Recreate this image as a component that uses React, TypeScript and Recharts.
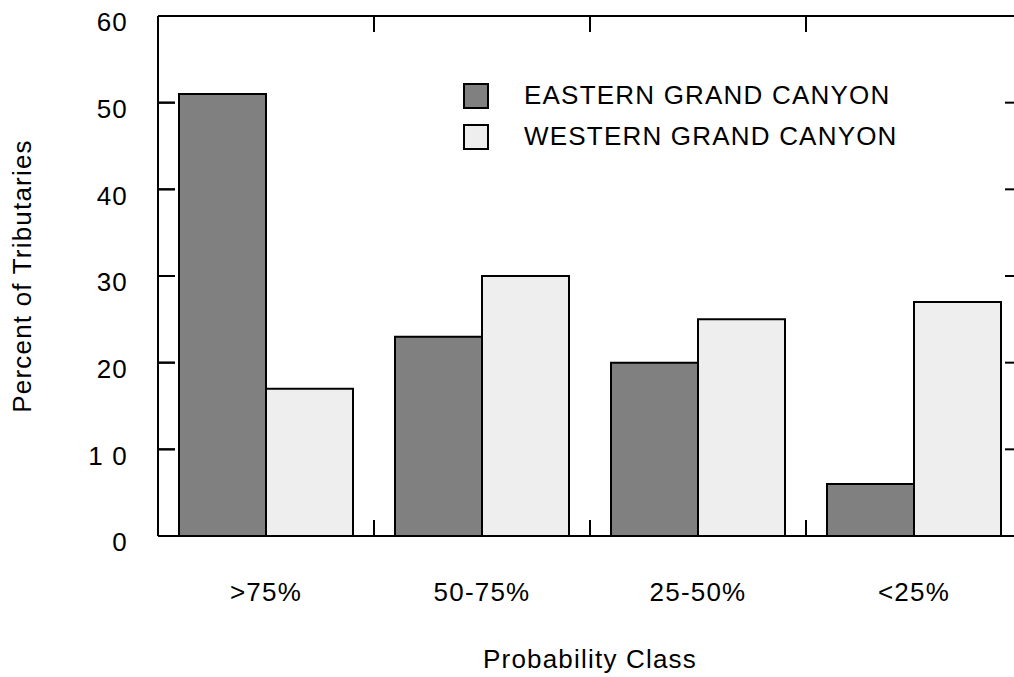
import { BarChart, Bar, XAxis, YAxis, Legend, ReferenceLine } from "recharts";

// probability classes along the x axis
const CLASSES = [">75%", "50-75%", "25-50%", "<25%"];
// percent of tributaries per class
const EASTERN = [51, 23, 20, 6];
const WESTERN = [17, 30, 25, 27];
const Y_TICKS = [0, 10, 20, 30, 40, 50, 60];

const SERIES = [
  { key: "eastern", name: "EASTERN GRAND CANYON", fill: "#808080" },
  { key: "western", name: "WESTERN GRAND CANYON", fill: "#eeeeee" },
];

const data = CLASSES.map((cls, i) => ({
  cls,
  eastern: EASTERN[i],
  western: WESTERN[i],
}));

const FONT = "'Liberation Sans', Arial, Helvetica, sans-serif";
const textStyle = { fontSize: 26, letterSpacing: 1.2, fill: "#000", fontFamily: FONT };
const line = { stroke: "#000", strokeWidth: 2 };
const TICK_LEN = 16;

// small inward mark on the boundary between two classes
function BoundaryTick(props: any) {
  const { y, payload, index, dir } = props;
  if (index >= CLASSES.length - 1) return <g />;
  const bx = Number(payload.coordinate) + Number(payload.offset || 0);
  const by = Number(y);
  return (
    <line
      x1={bx}
      x2={bx}
      y1={by}
      y2={by + dir * TICK_LEN}
      stroke="#000"
      strokeWidth={2}
    />
  );
}

// inward y tick marks on both frame edges, drawn from a reference line's ends
function EdgeTicks(props: any) {
  const a = Number(props.x1);
  const b = Number(props.x2);
  const lx = Math.min(a, b);
  const rx = Math.max(a, b);
  const y = Number(props.y1);
  return (
    <g>
      <line x1={lx} x2={lx + 17} y1={y} y2={y} stroke="#000" strokeWidth={2} />
      <line x1={rx - 17} x2={rx} y1={y} y2={y} stroke="#000" strokeWidth={2} />
    </g>
  );
}

function LegendBox() {
  return (
    <div style={{ fontFamily: FONT, fontSize: 26, letterSpacing: 1.2, color: "#000" }}>
      {SERIES.map((s) => (
        <div
          key={s.key}
          style={{ display: "flex", alignItems: "center", height: 41 }}
        >
          <span
            style={{
              display: "inline-block",
              width: 22,
              height: 22,
              background: s.fill,
              border: "2px solid #000",
              marginRight: 35,
            }}
          />
          <span>{s.name}</span>
        </div>
      ))}
    </div>
  );
}

export default function App() {
  return (
    <div
      style={{
        position: "absolute",
        left: 0,
        top: 0,
        width: 1014,
        height: 677,
        overflow: "hidden",
        background: "#fff",
        fontFamily: FONT,
      }}
    >
      <BarChart
        width={1030}
        height={677}
        data={data}
        margin={{ top: 15, right: 8, left: 0, bottom: 0 }}
        barCategoryGap={21}
        barGap={0}
      >
        <XAxis
          xAxisId="bot"
          dataKey="cls"
          orientation="bottom"
          height={1}
          axisLine={line}
          tickLine={false}
          tickSize={0}
          tickMargin={0}
          tick={(p: any) => <BoundaryTick {...p} dir={-1} />}
        />
        <XAxis
          xAxisId="cat"
          dataKey="cls"
          height={140}
          axisLine={false}
          tickLine={false}
          tickSize={0}
          tickMargin={46}
          tick={textStyle}
          label={{
            value: "Probability  Class",
            position: "insideBottom",
            offset: 9,
            style: textStyle,
          }}
        />
        <XAxis
          xAxisId="top"
          dataKey="cls"
          orientation="top"
          height={1}
          axisLine={line}
          tickLine={false}
          tickSize={0}
          tickMargin={0}
          tick={(p: any) => <BoundaryTick {...p} dir={1} />}
        />
        <YAxis
          yAxisId="left"
          domain={[0, 60]}
          ticks={Y_TICKS}
          width={158}
          axisLine={line}
          tickLine={false}
          tickSize={0}
          tickMargin={30}
          tick={{ ...textStyle, dy: 6 }}
          tickFormatter={(v) => (v === 10 ? "1 0" : String(v))}
          label={{
            value: "Percent of Tributaries",
            angle: -90,
            position: "insideLeft",
            offset: 22,
            style: { ...textStyle, textAnchor: "middle" },
          }}
        />
        <YAxis
          yAxisId="right"
          domain={[0, 60]}
          orientation="right"
          mirror
          axisLine={line}
          tick={false}
          tickLine={false}
        />
        <Legend
          layout="vertical"
          align="center"
          verticalAlign="middle"
          wrapperStyle={{ left: 463, top: 75, width: 500 }}
          content={() => <LegendBox />}
        />
        {SERIES.map((s) => (
          <Bar
            key={s.key}
            xAxisId="cat"
            yAxisId="left"
            dataKey={s.key}
            name={s.name}
            fill={s.fill}
            stroke="#000"
            strokeWidth={2}
            isAnimationActive={false}
          />
        ))}
        {Y_TICKS.map((v) => (
          <ReferenceLine
            key={v}
            y={v}
            xAxisId="cat"
            yAxisId="left"
            ifOverflow="visible"
            shape={(p: any) => <EdgeTicks {...p} />}
          />
        ))}
        {Y_TICKS.map((v) => (
          <ReferenceLine
            key={`l${v}`}
            xAxisId="cat"
            yAxisId="left"
            position="start"
            ifOverflow="visible"
            segment={[
              { x: CLASSES[0], y: v },
              { x: CLASSES[0], y: v },
            ]}
            shape={(p: any) => (
              <line
                x1={Number(p.x1)}
                x2={Number(p.x1) + 17}
                y1={Number(p.y1)}
                y2={Number(p.y1)}
                stroke="#000"
                strokeWidth={2}
              />
            )}
          />
        ))}
      </BarChart>
    </div>
  );
}
